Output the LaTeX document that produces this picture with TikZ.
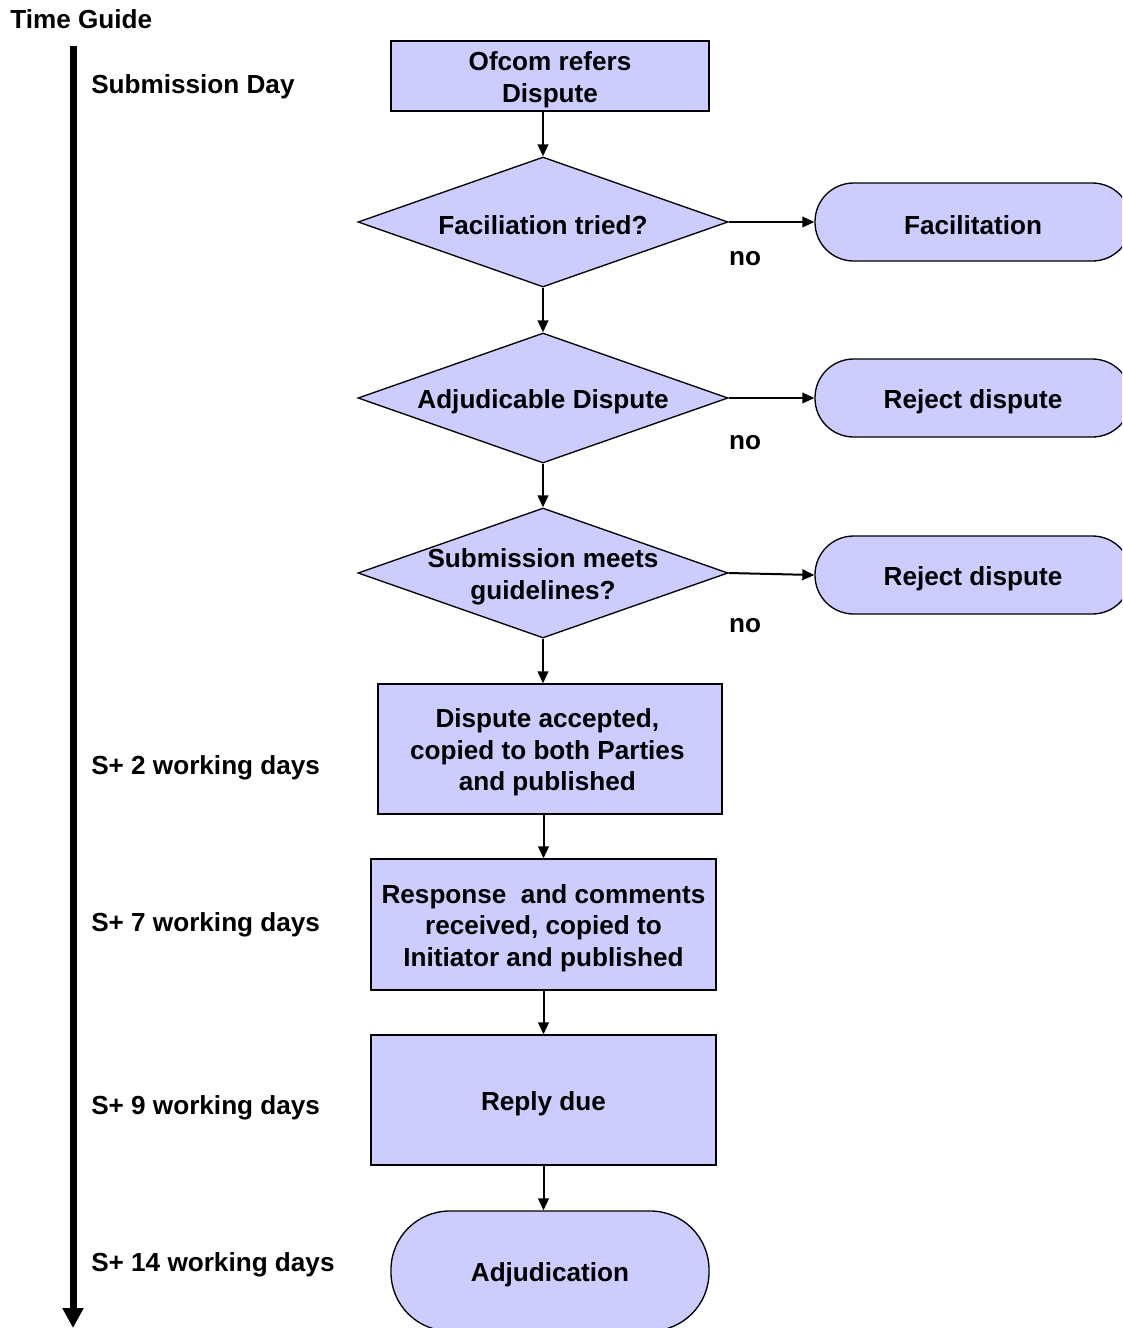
\documentclass[tikz,border=0pt]{standalone}
\usepackage{fontspec}
\setmainfont{Liberation Sans}
\usetikzlibrary{arrows.meta,shapes.geometric}
\definecolor{boxfill}{RGB}{204,204,255}
\begin{document}
\begin{tikzpicture}[x=0.75pt,y=-0.75pt,
  txt/.style={font=\fontsize{19.6}{23.6}\selectfont\bfseries, align=center, inner sep=0pt, yshift=-2.7pt},
  lbl/.style={font=\fontsize{19.6}{23.6}\selectfont\bfseries, anchor=west, inner sep=0pt},
  box/.style={draw=black, line width=1pt, fill=boxfill, inner sep=0pt},
  proc/.style={box, rectangle},
  dia/.style={box, diamond, minimum width=277.5pt, minimum height=97.5pt},
  term/.style={box, rectangle, rounded corners=29pt, minimum width=237pt, minimum height=58.5pt},
  conn/.style={draw=black, line width=1.5pt, -{Triangle[length=9pt,width=8pt]}}
]
\useasboundingbox (0,0) rectangle (1122,1328);
\clip (0,0) rectangle (1122,1328);
\fill[white] (0,0) rectangle (1122,1328);

% time guide
\node[lbl] (tg) at (10,19) {Time Guide};
\coordinate (tl0) at (73,46);
\coordinate (tl1) at (73,1328);
\draw[line width=5.25pt, -{Triangle[length=15pt,width=15pt]}] (tl0) -- (tl1);
\node[lbl] (l0) at (91,87) {Submission Day};
\node[lbl] (l1) at (91,768) {S+ 2 working days};
\node[lbl] (l2) at (91,925) {S+ 7 working days};
\node[lbl] (l3) at (91,1108) {S+ 9 working days};
\node[lbl] (l4) at (91,1265) {S+ 14 working days};

% flow
\node[proc, minimum width=238.5pt, minimum height=52.5pt, label={[txt]center:Ofcom refers\\Dispute}] (r1) at (550,76) {};
\node[dia, label={[txt]center:Faciliation tried?}] (d1) at (543,222) {};
\node[term, label={[txt]center:Facilitation}] (t1) at (973,222) {};
\node[dia, label={[txt]center:Adjudicable Dispute}] (d2) at (543,398) {};
\node[term, label={[txt]center:Reject dispute}] (t2) at (973,398) {};
\node[dia, label={[txt]center:Submission meets\\guidelines?}] (d3) at (543,573) {};
\node[term, label={[txt]center:Reject dispute}] (t3) at (973,575) {};
\node[proc, minimum width=258pt, minimum height=97.5pt, label={[txt, xshift=-2pt]center:Dispute accepted,\\copied to both Parties\\and published}] (r2) at (550,749) {};
\node[proc, minimum width=258.75pt, minimum height=98.25pt, label={[txt]center:Response\ \ and comments\\received, copied to\\Initiator and published}] (r3) at (543.5,924.5) {};
\node[proc, minimum width=258.75pt, minimum height=97.5pt, label={[txt]center:Reply due}] (r4) at (543.5,1100) {};
\node[term, minimum width=238.5pt, minimum height=90pt, rounded corners=44pt, label={[txt]center:Adjudication}] (t4) at (550,1271) {};

\node[txt] (n1) at (745,255) {no};
\node[txt] (n2) at (745,439) {no};
\node[txt] (n3) at (745,622) {no};

\draw[conn] (d1.north |- r1.south) -- (d1.north);
\draw[conn] (d1.south) -- (d2.north);
\draw[conn] (d2.south) -- (d3.north);
\draw[conn] (d3.south) -- (d3.south |- r2.north);
\draw[conn] (r3.north |- r2.south) -- (r3.north);
\draw[conn] (r3.south) -- (r4.north);
\draw[conn] (r4.south) -- (r4.south |- t4.north);
\draw[conn] (d1.east) -- (t1.west);
\draw[conn] (d2.east) -- (t2.west);
\draw[conn] (d3.east) -- (t3.west);
\end{tikzpicture}
\end{document}
